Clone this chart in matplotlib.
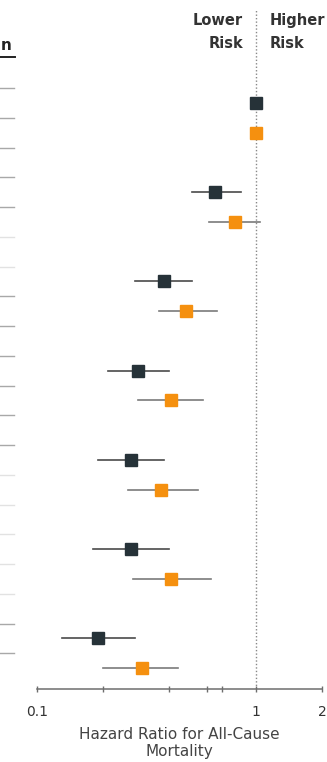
import numpy as np
import matplotlib
matplotlib.use('Agg')
import matplotlib.pyplot as plt
from matplotlib import font_manager
from matplotlib.transforms import blended_transform_factory

# hazard ratios, one pair of rows per exposure group (reference group first)
dark_hr = [1.0, 0.65, 0.38, 0.29, 0.27, 0.27, 0.19]
dark_lo = [np.nan, 0.51, 0.28, 0.21, 0.19, 0.18, 0.13]
dark_hi = [np.nan, 0.85, 0.51, 0.40, 0.38, 0.40, 0.28]
orange_hr = [1.0, 0.80, 0.48, 0.41, 0.37, 0.41, 0.30]
orange_lo = [np.nan, 0.61, 0.36, 0.29, 0.26, 0.275, 0.20]
orange_hi = [np.nan, 1.04, 0.66, 0.575, 0.545, 0.62, 0.44]

xticks = [0.1, 0.2, 0.4, 0.6, 0.7, 1, 2]
xticklabels = ['0.1', '', '', '', '', '1', '2']

names = {f.name for f in font_manager.fontManager.ttflist}
family = 'Liberation Sans Narrow' if 'Liberation Sans Narrow' in names else 'DejaVu Sans'
plt.rcParams['font.family'] = [family, 'DejaVu Sans']

DARK = '#263238'
ORANGE = '#f5900f'

fig = plt.figure(figsize=(3.27, 7.62), dpi=100)
W, H = 327.0, 762.0
ax = fig.add_axes([37 / W, 1 - 689 / H, (322 - 37) / W, (689 - 10) / H])

n = len(dark_hr)
rows_dark = np.arange(n) * 3 + 1
rows_orange = rows_dark + 1

def draw(rows, hr, lo, hi, color, ecolor):
    hr = np.array(hr)
    lo = np.array(lo)
    hi = np.array(hi)
    for r, l, h in zip(rows, lo, hi):
        if not np.isnan(l):
            ax.plot([l, h], [r, r], color=ecolor, lw=1.2, zorder=2)
    ax.plot(hr, rows, 's', color=color, markersize=8.8, zorder=3)

draw(rows_dark, dark_hr, dark_lo, dark_hi, DARK, '#4a4a4a')
draw(rows_orange, orange_hr, orange_lo, orange_hi, ORANGE, '#7a7a7a')

ax.axvline(1, color='#888888', ls=(0, (1, 1.5)), lw=1, zorder=1)

ax.set_xscale('log')
ax.set_xlim(0.1, 2)
ax.set_ylim(20.70, -2.126)
ax.set_xticks(xticks)
ax.set_xticklabels(xticklabels)
ax.xaxis.set_minor_locator(matplotlib.ticker.NullLocator())
ax.set_yticks([])
for s in ['top', 'right', 'left']:
    ax.spines[s].set_visible(False)
ax.spines['bottom'].set_color('#6e6e6e')
ax.spines['bottom'].set_linewidth(1.1)
ax.tick_params(axis='x', direction='inout', length=5, width=1, color='#6e6e6e',
               labelsize=10, labelcolor='#333333', pad=9)
ax.set_xlabel('Hazard Ratio for All-Cause\nMortality', fontsize=11, color='#444444',
              labelpad=6, linespacing=1.1)

# risk direction header above the reference line
fig.text(243 / W, 1 - 32 / H, 'Lower\nRisk', ha='right', va='center', fontsize=10.5,
         color='#333333', fontweight='bold', linespacing=1.6)
fig.text(270 / W, 1 - 32 / H, 'Higher\nRisk', ha='left', va='center', fontsize=10.5,
         color='#333333', fontweight='bold', linespacing=1.6)

# edge of the table column to the left
fig.text(0.5 / W, 1 - 46 / H, 'n', ha='left', va='center', fontsize=11,
         fontweight='bold', color='#222222')
fig.add_artist(plt.Line2D([0, 15 / W], [1 - 57 / H, 1 - 57 / H], color='#222222', lw=1.4))

light = {5, 6, 13, 14, 15, 16, 17}
trans = blended_transform_factory(fig.transFigure, ax.transData)
for j in range(20):
    y = j + 0.5
    c = '#e2e2e2' if j in light else '#a8a8a8'
    ax.plot([0, 14 / W], [y, y], color=c, lw=1, transform=trans, clip_on=False)

fig.savefig('out.png', dpi=100)
